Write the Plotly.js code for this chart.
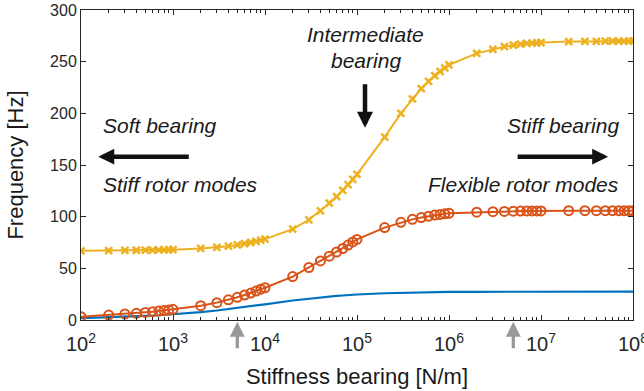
<!DOCTYPE html>
<html>
<head>
<meta charset="utf-8">
<script src="https://cdn.plot.ly/plotly-3.0.1.min.js"></script>
<style>html,body{margin:0;padding:0;background:#fff;}#chart{width:644px;height:391px;}</style>
</head>
<body>
<div id="chart"></div>
<script>
// Bearing stiffness [N/m]
var stiffness = [
  1e2,2e2,3e2,4e2,5e2,6e2,7e2,8e2,9e2,
  1e3,2e3,3e3,4e3,5e3,6e3,7e3,8e3,9e3,
  1e4,2e4,3e4,4e4,5e4,6e4,7e4,8e4,9e4,
  1e5,2e5,3e5,4e5,5e5,6e5,7e5,8e5,9e5,
  1e6,2e6,3e6,4e6,5e6,6e6,7e6,8e6,9e6,
  1e7,2e7,3e7,4e7,5e7,6e7,7e7,8e7,9e7,
  1e8
];
// Mode 1 (blue, no markers)
var mode1 = [
  1.8,2.5,3.1,3.5,3.9,4.3,4.6,4.9,5.2,
  5.5,7.6,9.2,10.5,11.6,12.5,13.3,14.0,14.6,
  15.2,18.9,20.7,21.9,22.7,23.3,23.7,24.1,24.4,
  24.7,25.9,26.4,26.7,26.8,26.9,27.0,27.1,27.1,
  27.2,27.3,27.3,27.4,27.4,27.4,27.4,27.4,27.4,
  27.4,27.5,27.5,27.5,27.5,27.5,27.5,27.5,27.5,
  27.5
];
// Mode 2 (orange, circles)
var mode2 = [
  3.2,4.8,5.8,6.5,7.3,8.0,8.6,9.2,9.6,
  10.3,13.9,16.8,19.5,22.0,24.2,26.1,28.0,29.8,
  31.2,42.0,50.8,57.2,61.8,65.8,69.2,72.5,75.5,
  78.0,89.4,94.5,97.4,99.2,100.5,101.5,102.2,102.8,
  103.3,104.3,104.8,105.1,105.3,105.4,105.5,105.5,105.6,
  105.6,105.8,105.8,105.8,105.8,105.8,105.8,105.8,105.8,
  105.8
];
// Mode 3 (yellow, x markers)
var mode3 = [
  67.0,67.2,67.4,67.5,67.6,67.7,67.8,67.9,68.0,
  68.1,69.2,70.3,71.4,72.6,73.8,75.0,76.1,77.2,
  78.3,88.0,97.0,105.5,113.0,119.5,125.5,131.0,136.0,
  141.0,177.0,200.0,214.0,224.0,231.0,236.5,240.5,244.0,
  247.0,258.0,262.0,264.5,266.0,267.0,267.6,268.0,268.3,
  268.5,269.4,269.6,269.7,269.8,269.8,269.9,269.9,269.9,
  270.0
];
var yTicks = [0,50,100,150,200,250,300];
var xTitle = 'Stiffness bearing [N/m]';
var yTitle = 'Frequency [Hz]';
var labelSoft = 'Soft bearing';
var labelStiffRotor = 'Stiff rotor modes';
var labelStiff = 'Stiff bearing';
var labelFlex = 'Flexible rotor modes';
var labelInter1 = 'Intermediate';
var labelInter2 = 'bearing';
var markedStiffness = [5e3, 5e6];

var traces = [
  {x: stiffness, y: mode1, type:'scatter', mode:'lines',
   line:{color:'#0072BD', width:2.2}, hoverinfo:'skip'},
  {x: stiffness, y: mode2, type:'scatter', mode:'lines+markers',
   line:{color:'#D95319', width:2},
   marker:{symbol:'circle-open', size:9, color:'#D95319', line:{width:2, color:'#D95319'}}},
  {x: stiffness, y: mode3, type:'scatter', mode:'lines+markers',
   line:{color:'#EDB120', width:2},
   marker:{symbol:'x-thin', size:7, color:'#EDB120', line:{width:2.5, color:'#EDB120'}}}
];

var txtFont = {family:'Liberation Sans, Arial, sans-serif', size:21, color:'#1a1a1a'};
function label(t, x, y, xa){
  return {text:'<i>'+t+'</i>', xref:'paper', yref:'paper', x:x, y:y,
          xanchor:xa, yanchor:'middle', showarrow:false, font:txtFont};
}
function arrow(x, y, ax, ay, color, w, s){
  return {text:'', xref:'paper', yref:'paper', x:x, y:y, ax:ax, ay:ay,
          showarrow:true, arrowhead:2, arrowwidth:w, arrowsize:s, arrowcolor:color};
}

var annotations = [
  label(labelSoft, 0.036, 0.627, 'left'),
  label(labelStiffRotor, 0.036, 0.437, 'left'),
  label(labelStiff, 0.978, 0.627, 'right'),
  label(labelFlex, 0.978, 0.437, 'right'),
  label(labelInter1, 0.516, 0.922, 'center'),
  label(labelInter2, 0.516, 0.838, 'center'),
  arrow(0.5145, 0.620, 0, -45, '#111111', 4.5, 0.71),
  arrow(0.0313, 0.527, 92, 0, '#111111', 4.5, 0.71),
  arrow(0.955, 0.527, -92, 0, '#111111', 4.5, 0.71)
];
markedStiffness.forEach(function(k){
  annotations.push({text:'', xref:'x', yref:'paper', x:Math.log10(k), y:-0.006,
    ax:0, ay:28, showarrow:true, arrowhead:2, arrowwidth:3.3, arrowsize:0.9,
    arrowcolor:'#999999'});
});

var axFont = {family:'Liberation Sans, Arial, sans-serif', size:16, color:'#262626'};
var layout = {
  width:644, height:391,
  margin:{l:81, r:11, t:10, b:71},
  paper_bgcolor:'#ffffff', plot_bgcolor:'#ffffff',
  showlegend:false,
  xaxis:{type:'log', range:[2,8], dtick:1, exponentformat:'power', showexponent:'all',
    ticks:'inside', ticklen:5, tickwidth:1, tickcolor:'#262626',
    ticklabelstandoff:7, ticklabeloverflow:'allow',
    minor:{ticks:'inside', ticklen:3, tickwidth:1, tickcolor:'#262626', showgrid:false},
    showline:true, linecolor:'#262626', linewidth:1, mirror:'ticks',
    showgrid:false, zeroline:false, tickfont:axFont,
    title:{text:xTitle, font:{family:'Liberation Sans, Arial, sans-serif', size:22, color:'#1a1a1a'}, standoff:14}},
  yaxis:{range:[0,300], tickvals:yTicks,
    ticks:'inside', ticklen:5, tickwidth:1, tickcolor:'#262626',
    showline:true, linecolor:'#262626', linewidth:1, mirror:'ticks',
    showgrid:false, zeroline:false, tickfont:axFont,
    title:{text:yTitle, font:{family:'Liberation Sans, Arial, sans-serif', size:22, color:'#1a1a1a'}, standoff:20}},
  annotations: annotations
};

Plotly.newPlot('chart', traces, layout, {displayModeBar:false, staticPlot:true});
</script>
</body>
</html>
